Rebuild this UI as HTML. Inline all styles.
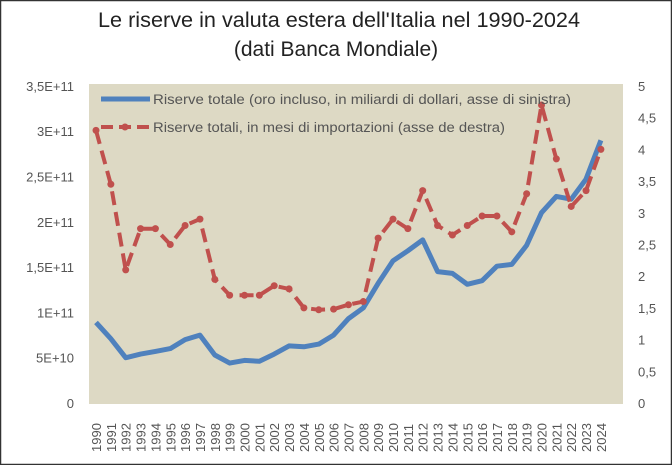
<!DOCTYPE html>
<html><head><meta charset="utf-8"><style>
html,body{margin:0;padding:0;background:#fff}
svg{display:block;font-family:"Liberation Sans",sans-serif}
</style></head><body>
<svg id="s" width="672" height="465" viewBox="0 0 672 465">
<rect x="0.5" y="0.5" width="671" height="464" fill="#fff" stroke="#333" stroke-width="1.5"/>
<text x="98" y="27" textLength="482" lengthAdjust="spacingAndGlyphs" font-size="21" fill="#222">Le riserve in valuta estera dell'Italia nel 1990-2024</text>
<text x="336" y="56" text-anchor="middle" font-size="21" fill="#222">(dati Banca Mondiale)</text>
<rect x="89" y="84" width="534" height="320" fill="#ddd9c4"/>
<g id="g"></g>
</svg>
<script>
var g=document.getElementById('g'),h='';
var L=['0','5E+10','1E+11','1,5E+11','2E+11','2,5E+11','3E+11','3,5E+11'];
var R=['0','0,5','1','1,5','2','2,5','3','3,5','4','4,5','5'];
for(var i=0;i<8;i++){h+='<text x="74" y="'+(403-i*45.3+5)+'" text-anchor="end" font-size="13" fill="#555">'+L[i]+'</text>';}
for(var i=0;i<11;i++){h+='<text x="638" y="'+(403-i*31.7+5)+'" font-size="13" fill="#555">'+R[i]+'</text>';}
var X=function(i){return 96+i*14.85;};
for(var i=0;i<35;i++){var x=X(i)+5;h+='<text transform="translate('+x+',452) rotate(-90)" font-size="13" fill="#555">'+(1990+i)+'</text>';}
var b=[0.89,0.71,0.50,0.54,0.57,0.60,0.70,0.75,0.53,0.44,0.47,0.46,0.54,0.63,0.62,0.65,0.75,0.93,1.05,1.32,1.57,1.68,1.80,1.45,1.43,1.31,1.35,1.51,1.53,1.74,2.10,2.28,2.25,2.47,2.90];
var r=[4.3,3.45,2.1,2.75,2.75,2.5,2.8,2.9,1.95,1.7,1.7,1.7,1.85,1.8,1.5,1.47,1.48,1.55,1.6,2.6,2.9,2.75,3.35,2.8,2.65,2.8,2.95,2.95,2.7,3.3,4.7,3.85,3.1,3.35,4.0];
var pb=b.map(function(v,i){return X(i).toFixed(1)+','+(403-v*90.6).toFixed(1)}).join(' ');
var pr=r.map(function(v,i){return X(i).toFixed(1)+','+(403-v*63.4).toFixed(1)}).join(' ');
h+='<polyline points="'+pb+'" fill="none" stroke="#4f81bd" stroke-width="5" stroke-linejoin="round"/>';
h+='<polyline points="'+pr+'" fill="none" stroke="#c0504d" stroke-width="4" stroke-dasharray="14,7" stroke-linejoin="round"/>';
r.forEach(function(v,i){h+='<circle cx="'+X(i)+'" cy="'+(403-v*63.4)+'" r="3.5" fill="#c0504d"/>';});
h+='<line x1="101" y1="99" x2="150" y2="99" stroke="#4f81bd" stroke-width="5"/>';
h+='<text x="153" y="104" font-size="13.5" textLength="418" lengthAdjust="spacingAndGlyphs" fill="#555">Riserve totale (oro incluso, in miliardi di dollari, asse di sinistra)</text>';
h+='<line x1="101" y1="127" x2="150" y2="127" stroke="#c0504d" stroke-width="4" stroke-dasharray="12,6"/><circle cx="125" cy="127" r="3.5" fill="#c0504d"/>';
h+='<text x="153" y="132" font-size="13.5" textLength="352" lengthAdjust="spacingAndGlyphs" fill="#555">Riserve totali, in mesi di importazioni (asse de destra)</text>';
g.innerHTML=h;
</script>
</body></html>
